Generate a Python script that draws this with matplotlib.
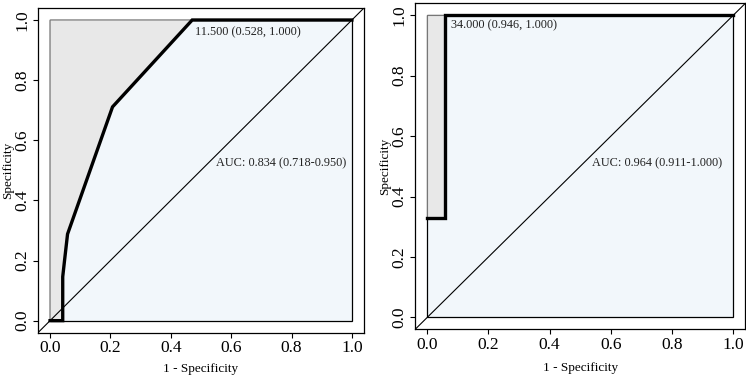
import matplotlib
matplotlib.use("Agg")
import matplotlib.pyplot as plt

plt.rcParams['font.family'] = ['Liberation Serif', 'DejaVu Serif']

# ROC curve points (x = 1 - specificity, y = specificity)
left_fpr = [0.0, 0.042, 0.042, 0.048, 0.058, 0.207, 0.471, 1.0]
left_tpr = [0.0, 0.0, 0.146, 0.2, 0.288, 0.711, 1.0, 1.0]
right_fpr = [0.0, 0.057, 0.057, 1.0]
right_tpr = [0.33, 0.33, 1.0, 1.0]

left_thr = "11.500 (0.528, 1.000)"
left_auc = "AUC: 0.834 (0.718-0.950)"
right_thr = "34.000 (0.946, 1.000)"
right_auc = "AUC: 0.964 (0.911-1.000)"

ticks = [0.0, 0.2, 0.4, 0.6, 0.8, 1.0]
tick_labels = ["0.0", "0.2", "0.4", "0.6", "0.8", "1.0"]

fig = plt.figure(figsize=(7.46, 3.76), dpi=100)
ax1 = fig.add_axes([0.0509, 0.1152, 0.437, 0.8636])
ax2 = fig.add_axes([0.5564, 0.1239, 0.4429, 0.8676])


def roc_panel(ax, fpr, tpr, thr_text, thr_pos, auc_text, auc_pos, xlab_y):
    # light blue full square
    ax.fill([0, 1, 1, 0], [0, 0, 1, 1], facecolor='#f2f7fb',
            edgecolor='black', lw=0.9, zorder=1)
    # grey area between curve and top-left corner
    ax.fill(list(fpr) + [0.0], list(tpr) + [1.0], facecolor='#e8e8e8',
            edgecolor='#777777', lw=0.8, zorder=2)
    ax.plot([-0.04, 1.04], [-0.04, 1.04], color='black', lw=0.8, zorder=3)
    ax.plot(fpr, tpr, color='black', lw=2.4, zorder=4,
            solid_joinstyle='miter')
    ax.text(thr_pos[0], thr_pos[1], thr_text, fontsize=8.8,
            ha='left', va='center', color='#222222', zorder=5)
    ax.text(auc_pos[0], auc_pos[1], auc_text, fontsize=8.8,
            ha='left', va='center', color='#222222', zorder=5)

    ax.set_xlim(-0.04, 1.04)
    ax.set_ylim(-0.04, 1.04)
    ax.set_xticks(ticks)
    ax.set_xticklabels(tick_labels, fontsize=12.5)
    ax.set_yticks(ticks)
    ax.set_yticklabels(tick_labels, fontsize=12.5, rotation=90, va='center')
    ax.tick_params(direction='out', length=3.6, width=0.8, pad=2)
    for s in ax.spines.values():
        s.set_linewidth(0.9)
    ax.set_xlabel("1 - Specificity", fontsize=9.5)
    ax.set_ylabel("Specificity", fontsize=9.5)
    ax.xaxis.set_label_coords(0.5, xlab_y)
    ax.yaxis.set_label_coords(-0.092, 0.5)
    ax.yaxis.label.set_va('center')
    ax.xaxis.label.set_va('center')


roc_panel(ax1, left_fpr, left_tpr, left_thr, (0.48, 0.96),
          left_auc, (0.55, 0.524), -0.112)
roc_panel(ax2, right_fpr, right_tpr, right_thr, (0.0765, 0.968),
          right_auc, (0.539, 0.51), -0.119)

fig.savefig("out.png", dpi=100)
